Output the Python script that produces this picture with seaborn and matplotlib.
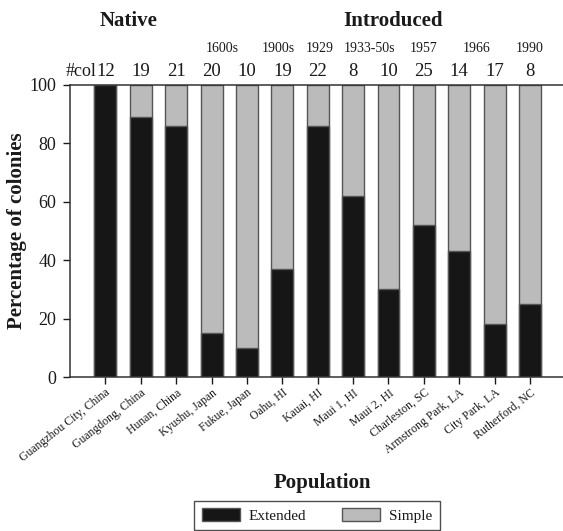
import matplotlib
matplotlib.use("Agg")
import matplotlib.pyplot as plt
import seaborn as sns
import pandas as pd
from matplotlib.patches import Patch

# data
populations = ["Guangzhou City, China", "Guangdong, China", "Hunan, China",
               "Kyushu, Japan", "Fukue, Japan", "Oahu, HI", "Kauai, HI",
               "Maui 1, HI", "Maui 2, HI", "Charleston, SC",
               "Armstrong Park, LA", "City Park, LA", "Rutherford, NC"]
extended = [100, 89, 86, 15, 10, 37, 86, 62, 30, 52, 43, 18, 25]
n_colonies = [12, 19, 21, 20, 10, 19, 22, 8, 10, 25, 14, 17, 8]
years = ["1600s", "1900s", "1929", "1933-50s", "1957", "1966", "1990"]
year_pos = [3.3, 4.9, 6.05, 7.45, 9.0, 10.5, 12.0]

df = pd.DataFrame({"population": populations, "extended": extended})
df["total"] = 100

sns.set_style("ticks")
plt.rcParams["font.family"] = ["Liberation Serif", "DejaVu Serif"]
txt = "#1a1a1a"

fig = plt.figure(figsize=(5.63, 5.31), dpi=100)
ax = fig.add_axes([0.1243, 0.29, 0.88, 0.55])

# grey = simple (full height), black = extended drawn on top
sns.barplot(data=df, x="population", y="total", color="#bbbbbb", width=0.62,
            edgecolor="#555555", linewidth=1, saturation=1, ax=ax)
sns.barplot(data=df, x="population", y="extended", color="#161616", width=0.62,
            edgecolor="#555555", linewidth=1, saturation=1, ax=ax)

ax.set_xlim(-1, 13)
ax.set_ylim(0, 100)
ax.set_yticks([0, 20, 40, 60, 80, 100])
ax.tick_params(axis="y", labelsize=13, length=5, width=1, pad=5, colors=txt)
ax.tick_params(axis="x", length=5, width=1, pad=2, colors=txt)
ax.set_xticks(range(len(populations)))
ax.set_xticklabels(populations, rotation=38, ha="right", rotation_mode="anchor",
                   fontsize=8.5, color=txt)
for s in ax.spines.values():
    s.set_color("#333333")
    s.set_linewidth(1.1)
ax.set_xlabel("")
ax.set_ylabel("")

# colony counts above bars
ax.text(-0.24, 104.5, "#col", ha="right", va="center", fontsize=13, color=txt)
for i, n in enumerate(n_colonies):
    ax.text(i, 104.5, str(n), ha="center", va="center", fontsize=13.5, color=txt)
for x, y in zip(year_pos, years):
    ax.text(x, 112.5, y, ha="center", va="center", fontsize=10, color=txt)
ax.text(0.66, 122, "Native", ha="center", va="center", fontsize=15,
        fontweight="bold", color=txt)
ax.text(8.14, 122, "Introduced", ha="center", va="center", fontsize=15,
        fontweight="bold", color=txt)

fig.text(0.031, 0.565, "Percentage of colonies", rotation=90, ha="center",
         va="center", fontsize=15, fontweight="bold", color=txt)
fig.text(0.572, 0.09, "Population", ha="center", va="center", fontsize=15,
         fontweight="bold", color=txt)

handles = [Patch(facecolor="#161616", edgecolor="#555555", label="Extended"),
           Patch(facecolor="#bbbbbb", edgecolor="#555555", label="Simple")]
leg = fig.legend(handles=handles, loc="center", bbox_to_anchor=(0.563, 0.029),
                 ncol=2, fontsize=11, frameon=True, fancybox=False,
                 handlelength=2.5, handleheight=0.85, handletextpad=0.6,
                 columnspacing=2.3, borderpad=0.5, borderaxespad=0)
leg.get_frame().set_edgecolor("#222222")
leg.get_frame().set_linewidth(1)
for t in leg.get_texts():
    t.set_color(txt)

fig.savefig("out.png", dpi=100)
